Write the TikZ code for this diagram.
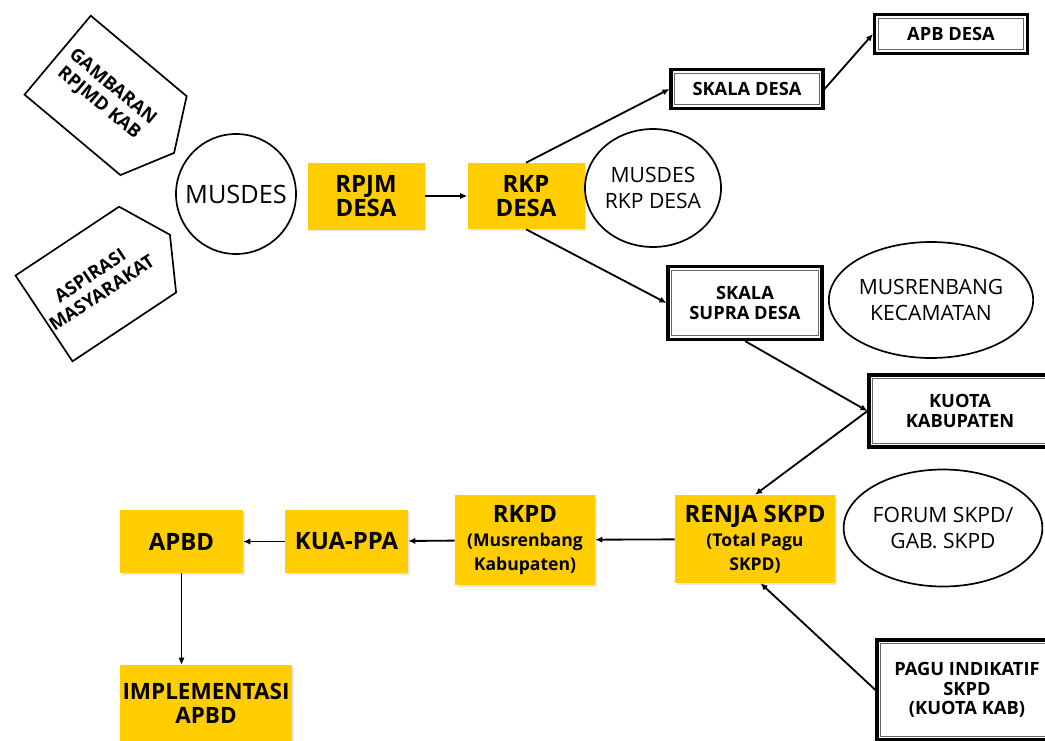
\documentclass[tikz,border=0pt]{standalone}
\usepackage{fontspec}
\setmainfont{Open Sans}
\usetikzlibrary{arrows.meta,positioning,shapes.geometric,shapes.symbols,shadows}
\definecolor{gold}{RGB}{255,205,0}
\newcommand{\subfont}{\fontsize{12.5}{14}\selectfont}

\begin{document}
\begin{tikzpicture}[x=1cm, y=1cm,
  ybox/.style={fill=gold, inner sep=0pt, align=center, font=\bfseries\fontsize{17}{17}\selectfont,
    drop shadow={shadow xshift=1.2pt, shadow yshift=-1.2pt, opacity=0.2}},
  dbox/.style={draw=black, line width=2.2pt, fill=white, inner sep=0pt, align=center,
    font=\bfseries\fontsize{13}{14}\selectfont,
    path picture={\draw[line width=0.8pt, black!60]
      ([shift={(2.7pt,-2.7pt)}]path picture bounding box.north west) rectangle
      ([shift={(-2.7pt,2.7pt)}]path picture bounding box.south east);}},
  oval/.style={draw, ellipse, line width=1.2pt, inner sep=0pt, align=center, font=\fontsize{15}{19}\selectfont},
  tag/.style={draw, signal, signal to=east, signal pointer angle=125, line width=1.2pt, inner sep=0pt,
    align=center, font=\bfseries\fontsize{13}{15}\selectfont},
  link/.style={-{Latex[length=5pt, width=4.5pt]}, line width=1.3pt}]
  \path[use as bounding box] (0,0) rectangle (26.125,-18.5);
  \clip (0,0) rectangle (26.125,-18.5);
  % inputs for the village meeting
  \node[tag, rotate=-40, minimum width=3.8cm, minimum height=2.575cm] (gambaran) at (2.64,-2.385) {GAMBARAN\\RPJMD KAB};
  \node[tag, rotate=33.6, minimum width=3.78cm, minimum height=2.575cm] (aspirasi) at (2.395,-7.10) {ASPIRASI\\MASYARAKAT};
  \node[draw, circle, line width=1.2pt, minimum size=3cm, inner sep=0pt, font=\fontsize{18}{20}\selectfont] (musdes) at (5.9,-4.85) {MUSDES};
  % village level
  \node[ybox, minimum width=2.925cm, minimum height=1.675cm] (rpjm) at (9.15,-4.9) {RPJM\\DESA};
  \node[ybox, minimum width=2.925cm, minimum height=1.65cm] (rkp) at (13.15,-4.9) {RKP\\DESA};
  \node[oval, minimum width=3.15cm, minimum height=2.95cm] (musrkp) at (16.325,-4.7) {MUSDES\\RKP DESA};
  \node[dbox, minimum width=3.8cm, minimum height=0.975cm] (skdesa) at (18.675,-2.225) {SKALA DESA};
  \node[dbox, minimum width=3.825cm, minimum height=0.975cm] (apbdes) at (23.775,-0.85) {APB DESA};
  \node[dbox, minimum width=3.85cm, minimum height=1.825cm] (supra) at (18.625,-7.575) {SKALA\\SUPRA DESA};
  \node[oval, minimum width=4.8cm, minimum height=2.9cm] (musrenbang) at (23.275,-7.5) {MUSRENBANG\\KECAMATAN};
  \node[dbox, minimum width=4.55cm, minimum height=1.8cm] (kuota) at (24.0,-10.275) {KUOTA\\KABUPATEN};
  % district level
  \node[ybox, minimum width=4cm, minimum height=2.2cm] (renja) at (18.875,-13.475) {RENJA SKPD\\\subfont (Total Pagu\\\subfont SKPD)};
  \node[oval, minimum width=4.825cm, minimum height=2.925cm] (forum) at (23.575,-13.2) {FORUM SKPD/\\GAB. SKPD};
  \node[dbox, minimum width=4.5cm, minimum height=2.5cm] (pagu) at (24.175,-17.25) {PAGU INDIKATIF\\SKPD\\(KUOTA KAB)};
  \node[ybox, minimum width=3.5cm, minimum height=2.25cm] (rkpd) at (13.125,-13.5) {RKPD\\\subfont (Musrenbang\\\subfont Kabupaten)};
  \node[ybox, minimum width=3.075cm, minimum height=1.575cm] (kua) at (8.6625,-13.5375) {KUA-PPA};
  \node[ybox, minimum width=3.075cm, minimum height=1.575cm] (apbd) at (4.5375,-13.5375) {APBD};
  \node[ybox, minimum width=4.3cm, minimum height=1.9cm, font=\bfseries\fontsize{16}{17}\selectfont] (impl) at (5.15,-17.575) {IMPLEMENTASI\\APBD};
  % flow
  \draw[link] (rpjm) -- (rkp);
  \draw[link] (rkp.north) -- (skdesa.west);
  \draw[link] (rkp.south) -- (supra.west);
  \draw[link] (skdesa.east) -- (apbdes.west);
  \draw[link] (supra.south) -- (kuota.west);
  \draw[link] (kuota.west) -- (renja.north);
  \draw[link] (pagu.west) -- ([xshift=4pt]renja.south);
  \draw[link] (renja) -- (rkpd);
  \draw[link] (rkpd) -- (kua);
  \draw[link] (kua) -- (apbd);
  \draw[link] (apbd) -- (apbd |- impl.north);
\end{tikzpicture}
\end{document}
